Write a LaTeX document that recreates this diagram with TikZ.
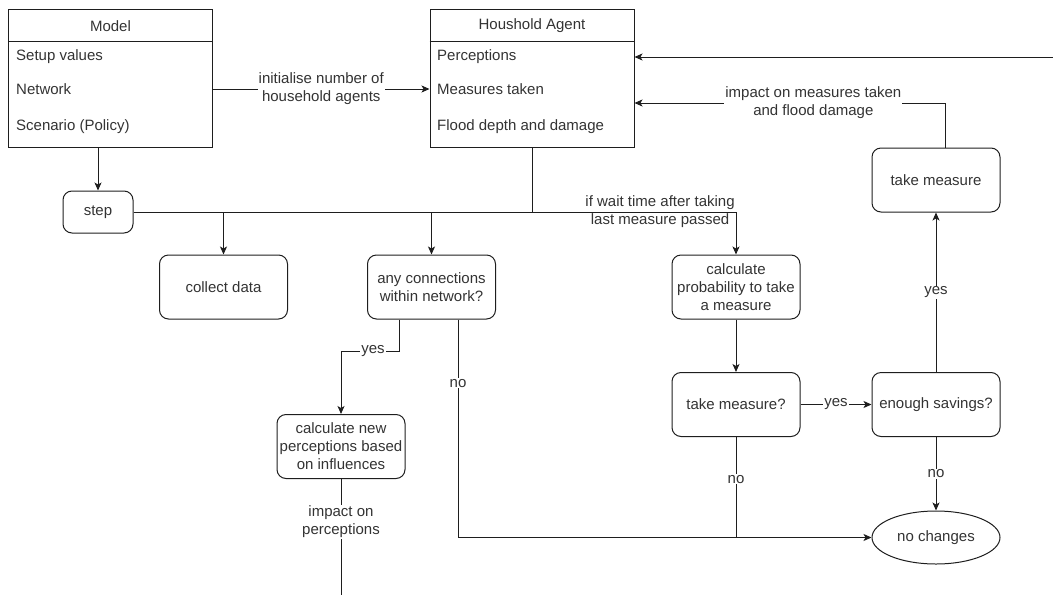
\documentclass[tikz,border=0pt]{standalone}
\usepackage{fontspec}
\setmainfont{Liberation Sans}
\usepackage{tikz}
\usetikzlibrary{arrows.meta,shapes.geometric}
\definecolor{linegray}{RGB}{30,30,30}
\definecolor{textgray}{RGB}{51,51,51}

\begin{document}
\begin{tikzpicture}[
    x=1pt, y=-1pt,
    every node/.style={font=\fontsize{15}{18}\selectfont, text=textgray},
    classbox/.style={rectangle, draw=linegray, line width=1pt,
                minimum width=204pt, minimum height=138pt},
    item/.style={anchor=west, inner sep=0pt},
    proc/.style={rectangle, draw=linegray, line width=1pt, rounded corners=9pt,
                minimum width=128pt, minimum height=64pt, inner sep=2pt, align=center},
    term/.style={ellipse, draw=linegray, line width=1pt,
                minimum width=128pt, minimum height=53pt, inner sep=0pt},
    link/.style={line width=1pt, draw=linegray},
    arrow/.style={-{Stealth[length=8pt,width=7pt,inset=2pt]}, line width=1pt, draw=linegray},
    lbl/.style={fill=white, inner sep=1pt, align=center}
]
\useasboundingbox (0,0) rectangle (1053,595);

% Model
\node[classbox] (model) at (110.5,78) {};
\node (modelhead) at (110.5,26) {Model};
\draw[link] (model.west |- 0,41) -- (model.east |- 0,41);
\node[item] (modelsetup) at (16,57)  {Setup values};
\node[item] (modelnet)   at (16,89)  {Network};
\node[item] (modelscen)  at (16,127) {Scenario (Policy)};

% Houshold agent
\node[classbox] (agent) at (532,78) {};
\node (agenthead) at (532,26) {Houshold Agent};
\draw[link] (agent.west |- 0,41) -- (agent.east |- 0,41);
\node[item] (agentperc) at (437,57)  {Perceptions};
\node[item] (agentmeas) at (437,89)  {Measures taken};
\node[item] (agentflood) at (437,127) {Flood depth and damage};

% Process
\node[proc, minimum width=70pt, minimum height=42pt] (step) at (98,212) {step};
\node[proc] (collect)  at (223.5,287) {collect data};
\node[proc] (anyconn)  at (431.5,287) {any connections\\within network?};
\node[proc] (calcprob) at (736,287)   {calculate\\probability to take\\a measure};
\node[proc] (takem)    at (936,180)   {take measure};
\node[proc] (takemq)   at (736,404.5) {take measure?};
\node[proc] (savings)  at (936,404.5) {enough savings?};
\node[proc] (calcnew)  at (341,446.5) {calculate new\\perceptions based\\on influences};
\node[term] (nochg)    at (936,537.5) {no changes};

\coordinate (yesbend) at (341,351);
\coordinate (loopin)  at (1053,57);
\coordinate (percout) at (341,595);

% Arrows top
\draw[arrow] (model.south -| step.north) -- (step.north);
\draw[arrow] (model.east |- agentmeas) -- node[lbl] {initialise number of\\household agents} (agent.west |- agentmeas);
\draw[arrow] (loopin) -- (agent.east |- loopin);
\draw[arrow] ([xshift=9pt]takem.north) |- node[lbl, pos=0.712] {impact on measures taken\\and flood damage} ([yshift=-25pt]agent.east);

% Step branches
\draw[link] (agent.south) -- (agent.south |- step.east);
\draw[arrow] (step.east) -| (collect.north);
\draw[arrow] (step.east) -| (anyconn.north);
\draw[arrow] (step.east) -| node[pos=0.437, align=center] {if wait time after taking\\last measure passed} (calcprob.north);

% Network branch
\draw[arrow] ([xshift=-32.5pt]anyconn.south) |- node[lbl, pos=0.724] {yes} (yesbend) -- (calcnew.north);
\draw[arrow] ([xshift=26.5pt]anyconn.south) |- node[lbl, pos=0.146] {no} (nochg.west);
\draw[link] (calcnew.south) -- node[lbl, pos=0.37] {impact on\\perceptions} (percout);

% Measure branch
\draw[arrow] (calcprob) -- (takemq);
\draw[arrow] (takemq) -- node[lbl] {yes} (savings);
\draw[link] (takemq.south) -- node[lbl, pos=0.42] {no} (takemq.south |- nochg.west);
\draw[arrow] (savings) -- node[lbl] {no} (nochg);
\draw[arrow] (savings) -- node[lbl] {yes} (takem);

\end{tikzpicture}
\end{document}
